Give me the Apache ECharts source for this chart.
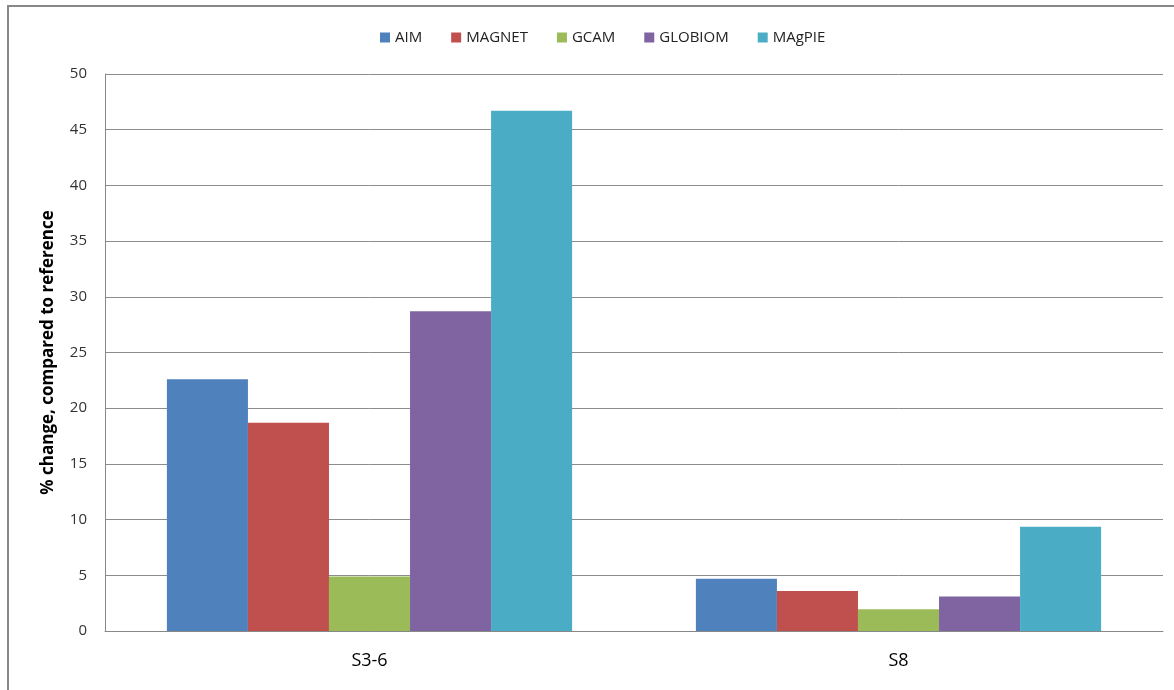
<!DOCTYPE html>
<html>
<head>
<meta charset="utf-8">
<script src="https://cdn.jsdelivr.net/npm/echarts@6/dist/echarts.min.js"></script>
<style>
  html, body { margin: 0; padding: 0; background: #fff; }
  #chart { width: 1174px; height: 690px; }
</style>
</head>
<body>
<div id="chart"></div>
<script>
// scenarios on the x axis
var categories = ['S3-6', 'S8'];

// % change per model, one value per scenario
var aim = [22.6, 4.7];
var magnet = [18.7, 3.6];
var gcam = [4.9, 1.95];
var globiom = [28.7, 3.1];
var magpie = [46.7, 9.35];

var modelNames = ['AIM', 'MAGNET', 'GCAM', 'GLOBIOM', 'MAgPIE'];
var modelColors = ['#4f81bd', '#c0504d', '#9bbb59', '#8064a2', '#4bacc6'];

var fontName = '"Open Sans", "Noto Sans", sans-serif';

var chart = echarts.init(document.getElementById('chart'));

function makeSeries(name, data, color) {
  return {
    name: name,
    type: 'bar',
    data: data,
    barGap: 0,
    barCategoryGap: '23.4%',
    itemStyle: { color: color },
    emphasis: { disabled: true }
  };
}

var option = {
  animation: false,
  backgroundColor: '#fff',
  color: modelColors,
  graphic: [{
    type: 'polyline',
    shape: { points: [[8, 700], [8, 6], [1180, 6]] },
    style: { stroke: '#888', lineWidth: 2, fill: null },
    silent: true
  }],
  legend: {
    data: modelNames,
    top: 25,
    left: 375,
    itemWidth: 10,
    itemHeight: 10,
    itemGap: 29,
    icon: 'rect',
    textStyle: { fontFamily: fontName, fontSize: 15, color: '#222' }
  },
  grid: {
    left: 105,
    right: 11,
    top: 74,
    bottom: 59,
    containLabel: false
  },
  xAxis: {
    type: 'category',
    data: categories,
    axisLine: { lineStyle: { color: '#888', width: 1 } },
    axisTick: { show: false },
    axisLabel: {
      fontFamily: fontName,
      fontSize: 18,
      color: '#000',
      margin: 21
    }
  },
  yAxis: {
    type: 'value',
    min: 0,
    max: 50,
    interval: 5,
    name: '% change, compared to reference',
    nameLocation: 'middle',
    nameGap: 48,
    nameTextStyle: {
      fontFamily: fontName,
      fontSize: 17,
      fontWeight: 'bold',
      color: '#000'
    },
    axisLine: { show: true, lineStyle: { color: '#888', width: 1 } },
    axisTick: { show: false },
    splitLine: { lineStyle: { color: '#8c8c8c', width: 1 } },
    axisLabel: {
      fontFamily: fontName,
      fontSize: 15,
      color: '#333',
      margin: 18
    }
  },
  series: [
    makeSeries(modelNames[0], aim, modelColors[0]),
    makeSeries(modelNames[1], magnet, modelColors[1]),
    makeSeries(modelNames[2], gcam, modelColors[2]),
    makeSeries(modelNames[3], globiom, modelColors[3]),
    makeSeries(modelNames[4], magpie, modelColors[4])
  ]
};

chart.setOption(option);
</script>
</body>
</html>
